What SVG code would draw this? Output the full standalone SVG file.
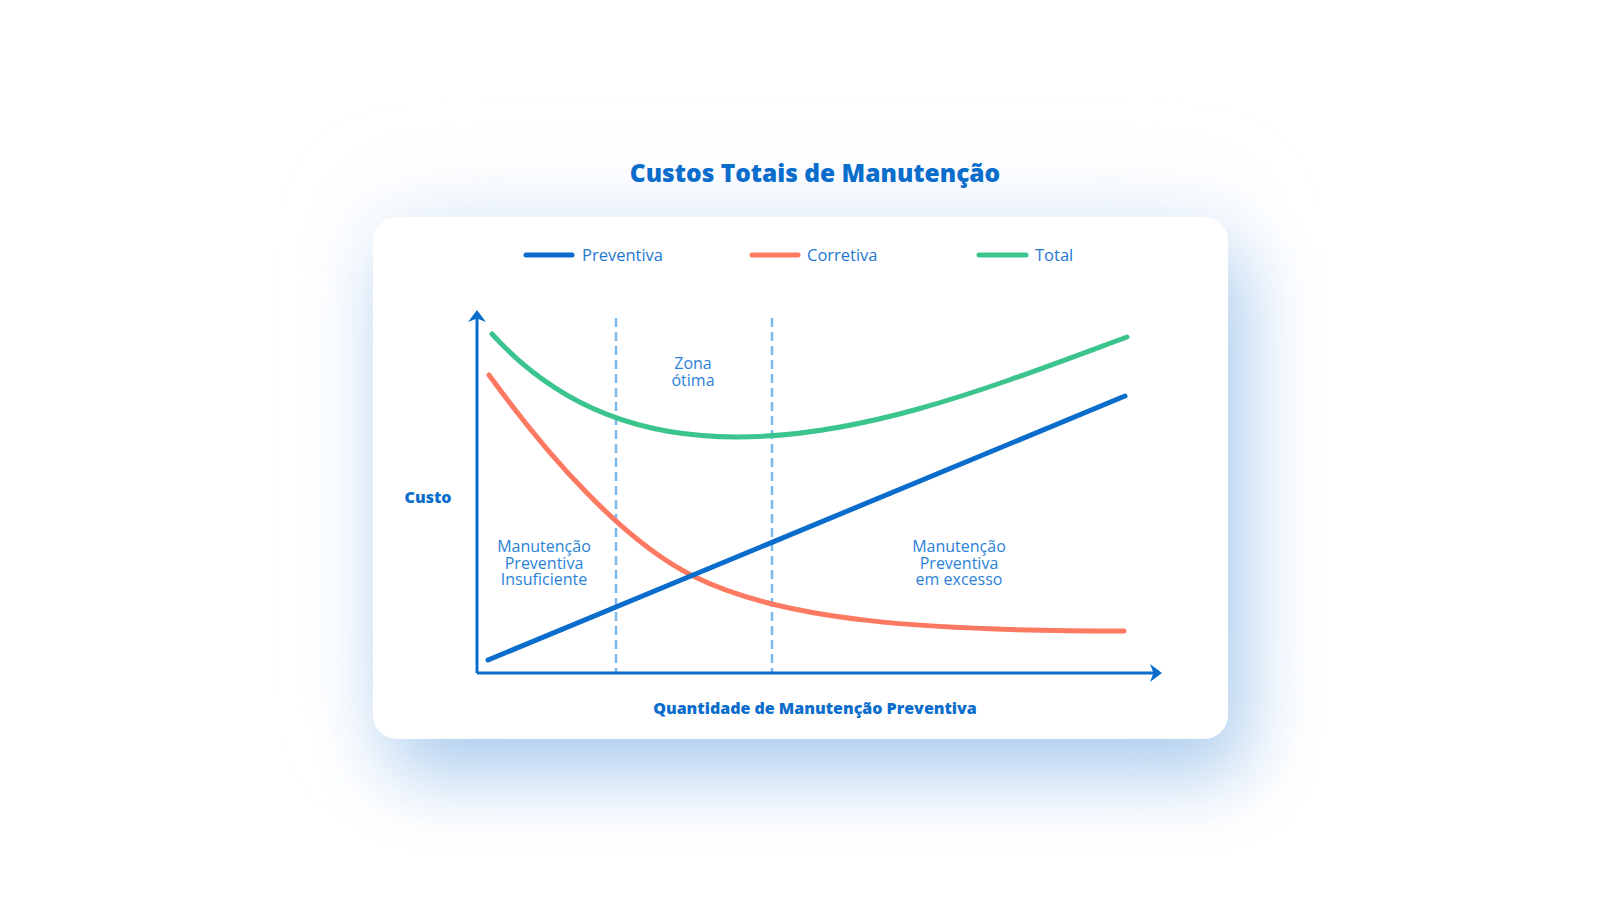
<svg xmlns="http://www.w3.org/2000/svg" width="1600" height="900" viewBox="0 0 1600 900">
  <defs>
    <style>
      .title { font-family: "Open Sans", "Liberation Sans", sans-serif; font-weight: 800; font-size: 24.5px; fill: #0a6dcc; }
      .axis-label { font-family: "Open Sans", "Liberation Sans", sans-serif; font-weight: 800; font-size: 16px; fill: #0a6dcc; }
      .legend { font-family: "Open Sans", "Liberation Sans", sans-serif; font-size: 16.5px; fill: #1f78d3; }
      .note { font-family: "Open Sans", "Liberation Sans", sans-serif; font-size: 16px; fill: #2a82d8; text-anchor: middle; }
      .curve { fill: none; stroke-width: 5; stroke-linecap: round; }
      .axis { fill: none; stroke: #0a6dcc; stroke-width: 3; }
      .zone { fill: none; stroke: #7bb8ec; stroke-width: 2.5; stroke-dasharray: 9 5; }
    </style>
    <filter id="shadow" x="-30%" y="-30%" width="160%" height="170%">
      <feGaussianBlur stdDeviation="38"/>
    </filter>
    <filter id="glow" x="-30%" y="-30%" width="160%" height="170%">
      <feGaussianBlur stdDeviation="45"/>
    </filter>
  </defs>

  <rect width="1600" height="900" fill="#ffffff"/>

  <g id="card">
    <rect x="373" y="200" width="855" height="540" rx="24" fill="#e3eefb" opacity="0.6" filter="url(#glow)"/>
    <rect x="390" y="254" width="855" height="522" rx="24" fill="#3f8ad6" opacity="0.4" filter="url(#shadow)"/>
    <rect x="373" y="217" width="855" height="522" rx="24" fill="#ffffff"/>
  </g>

  <g id="title">
    <text class="title" x="815" y="182" text-anchor="middle">Custos Totais de Manutenção</text>
  </g>

  <g id="legend">
    <line x1="526" y1="255" x2="572" y2="255" class="curve" stroke="#0a6dcc"/>
    <text class="legend" x="582" y="261">Preventiva</text>
    <line x1="752" y1="255" x2="798" y2="255" class="curve" stroke="#fd7962"/>
    <text class="legend" x="807" y="261">Corretiva</text>
    <line x1="979" y1="255" x2="1026" y2="255" class="curve" stroke="#3cc48f"/>
    <text class="legend" x="1035" y="261">Total</text>
  </g>

  <g id="zones">
    <line x1="616" y1="318" x2="616" y2="673" class="zone"/>
    <line x1="772" y1="318" x2="772" y2="673" class="zone"/>
  </g>

  <g id="axes">
    <line x1="477" y1="673" x2="477" y2="316" class="axis"/>
    <path d="M477,310 L486,322 L477,318.5 L468,322 Z" fill="#0a6dcc"/>
    <line x1="477" y1="673" x2="1155" y2="673" class="axis"/>
    <path d="M1162,673 L1150,664 L1153.5,673 L1150,682 Z" fill="#0a6dcc"/>
  </g>

  <g id="connectors">
    <path id="corretiva" class="curve" stroke="#fd7962" d="M489,375 C549,457.5 623,541 693,576 C783,621 924,631 1124,631"/>
    <path id="total" class="curve" stroke="#3cc48f" d="M492,334 C562,411 647,437 737,437 C867,437 997,385 1127,337"/>
    <path id="preventiva" class="curve" stroke="#0a6dcc" stroke-width="5.5" d="M488,660 L1125,396"/>
  </g>

  <g id="labels">
    <text class="axis-label" x="428" y="503" text-anchor="middle">Custo</text>
    <text class="axis-label" x="815" y="714" text-anchor="middle">Quantidade de Manutenção Preventiva</text>
    <text class="note" x="693" y="369">Zona</text>
    <text class="note" x="693" y="386">ótima</text>
    <text class="note" x="544" y="552">Manutenção</text>
    <text class="note" x="544" y="568.5">Preventiva</text>
    <text class="note" x="544" y="585">Insuficiente</text>
    <text class="note" x="959" y="552">Manutenção</text>
    <text class="note" x="959" y="568.5">Preventiva</text>
    <text class="note" x="959" y="585">em excesso</text>
  </g>
</svg>
